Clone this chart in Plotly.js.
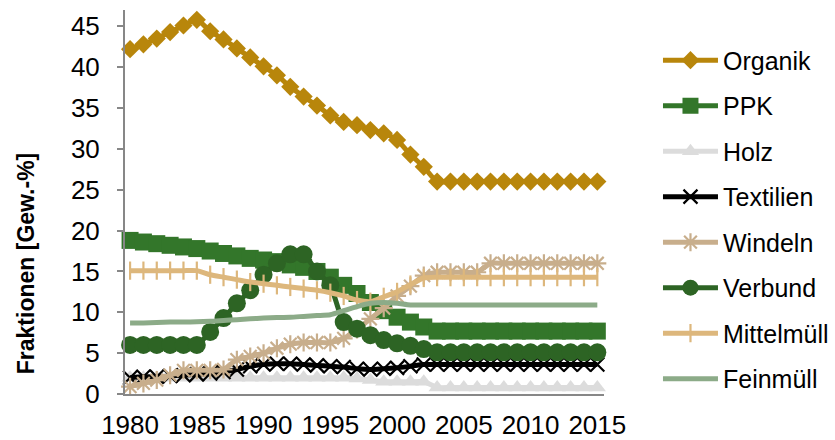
<!DOCTYPE html>
<html>
<head>
<meta charset="utf-8">
<script src="https://cdn.plot.ly/plotly-3.0.1.min.js"></script>
<style>
  html, body { margin: 0; padding: 0; background: #ffffff; }
  #chart { width: 835px; height: 440px; }
</style>
</head>
<body>
<div id="chart"></div>
<script>
// ---- data ----
const years = [1980, 1981, 1982, 1983, 1984, 1985, 1986, 1987, 1988, 1989,
               1990, 1991, 1992, 1993, 1994, 1995, 1996, 1997, 1998, 1999,
               2000, 2001, 2002, 2003, 2004, 2005, 2006, 2007, 2008, 2009,
               2010, 2011, 2012, 2013, 2014, 2015];

const organik = [42.2, 42.8, 43.5, 44.3, 45.1, 45.8, 44.4, 43.4, 42.3, 41.2,
                 40.1, 39.0, 37.6, 36.4, 35.3, 34.1, 33.3, 32.9, 32.3, 31.9,
                 31.1, 29.3, 27.8, 26.0, 26.0, 26.0, 26.0, 26.0, 26.0, 26.0,
                 26.0, 26.0, 26.0, 26.0, 26.0, 26.0];

const ppk = [18.8, 18.6, 18.4, 18.2, 18.0, 17.8, 17.5, 17.2, 16.9, 16.6,
             16.4, 16.2, 15.8, 15.5, 15.0, 14.3, 13.3, 12.3, 11.2, 10.2,
             9.4, 8.8, 8.2, 7.7, 7.7, 7.7, 7.7, 7.7, 7.7, 7.7,
             7.7, 7.7, 7.7, 7.7, 7.7, 7.7];

const holz = [2.0, 2.0, 2.0, 2.0, 2.0, 2.0, 2.0, 2.0, 2.0, 2.0,
              2.0, 2.0, 2.0, 2.0, 2.0, 2.0, 2.0, 1.9, 1.7, 1.5,
              1.5, 1.5, 1.5, 0.8, 0.8, 0.8, 0.8, 0.8, 0.8, 0.8,
              0.8, 0.8, 0.8, 0.8, 0.8, 0.8];

const textilien = [2.0, 2.1, 2.1, 2.2, 2.3, 2.4, 2.5, 2.7, 3.0, 3.4,
                   3.6, 3.7, 3.7, 3.6, 3.5, 3.4, 3.3, 3.1, 3.0, 3.1,
                   3.2, 3.4, 3.6, 3.6, 3.6, 3.6, 3.6, 3.6, 3.6, 3.6,
                   3.6, 3.6, 3.6, 3.6, 3.6, 3.6];

const windeln = [0.9, 1.3, 1.7, 2.3, 2.9, 2.9, 2.9, 3.0, 4.2, 4.6,
                 5.0, 5.6, 6.1, 6.3, 6.3, 6.3, 6.8, 7.9, 9.2, 10.5,
                 12.0, 13.2, 14.5, 14.9, 14.9, 14.9, 14.9, 16.0, 16.0, 16.0,
                 16.0, 16.0, 16.0, 16.0, 16.0, 16.0];

const verbund = [6.0, 6.0, 6.0, 6.0, 6.0, 6.0, 7.6, 9.3, 11.1, 12.7,
                 14.6, 16.0, 17.1, 17.1, 15.0, 13.3, 8.8, 8.0, 7.2, 6.6,
                 6.2, 5.9, 5.5, 5.1, 5.1, 5.1, 5.1, 5.1, 5.1, 5.1,
                 5.1, 5.1, 5.1, 5.1, 5.1, 5.1];

const mittelmuell = [15.1, 15.1, 15.1, 15.1, 15.1, 15.1, 14.6, 14.3, 14.0, 13.7,
                     13.5, 13.3, 13.1, 12.9, 12.7, 12.4, 12.0, 11.5, 11.3, 11.9,
                     12.5, 13.4, 14.2, 14.3, 14.3, 14.3, 14.3, 14.3, 14.3, 14.3,
                     14.3, 14.3, 14.3, 14.3, 14.3, 14.3];

const feinmuell = [8.7, 8.7, 8.75, 8.8, 8.8, 8.85, 8.9, 9.0, 9.1, 9.2,
                   9.3, 9.35, 9.4, 9.5, 9.6, 9.7, 10.2, 10.7, 11.1, 11.2,
                   11.1, 10.9, 10.9, 10.9, 10.9, 10.9, 10.9, 10.9, 10.9, 10.9,
                   10.9, 10.9, 10.9, 10.9, 10.9, 10.9];

const seriesNames = ["Organik", "PPK", "Holz", "Textilien", "Windeln", "Verbund", "Mittelmüll", "Feinmüll"];
const xTickVals = [1980, 1985, 1990, 1995, 2000, 2005, 2010, 2015];
const yTickVals = [0, 5, 10, 15, 20, 25, 30, 35, 40, 45];
const yTitle = "Fraktionen [Gew.-%]";

// ---- styles ----
const FONT = "Liberation Sans, Arial, sans-serif";
const LW = 5;
function tr(name, y, color, marker) {
  const t = {
    type: "scatter", mode: marker ? "lines+markers" : "lines",
    x: years, y: y, name: name, legendgroup: name,
    line: { color: color, width: LW, shape: "spline", smoothing: 0.6 },
    cliponaxis: false
  };
  if (marker) t.marker = marker;
  return t;
}

const traces = [
  tr(seriesNames[0], organik, "#B8860B", { symbol: "diamond", size: 14, color: "#B8860B" }),
  tr(seriesNames[1], ppk, "#33762A", { symbol: "square", size: 17, color: "#33762A" }),
  tr(seriesNames[2], holz, "#DCDCDC", { symbol: "triangle-up", size: 15, color: "#DCDCDC" }),
  tr(seriesNames[3], textilien, "#000000", { symbol: "x-thin", size: 14, color: "#000000", line: { color: "#000000", width: 2.2 } }),
  tr(seriesNames[4], windeln, "#C8AE8C", { symbol: "asterisk", size: 15, color: "#C8AE8C", line: { color: "#C8AE8C", width: 2.2 } }),
  tr(seriesNames[5], verbund, "#2D6424", { symbol: "circle", size: 18, color: "#2D6424" }),
  tr(seriesNames[6], mittelmuell, "#DDB77C", { symbol: "line-ns", size: 13, color: "#DDB77C", line: { color: "#DDB77C", width: 2.2 } }),
  tr(seriesNames[7], feinmuell, "#8CAB88", null)
];

const layout = {
  width: 835, height: 440,
  margin: { l: 125, r: 231, t: 10, b: 46, autoexpand: false },
  paper_bgcolor: "#ffffff", plot_bgcolor: "#ffffff",
  font: { family: FONT, size: 26, color: "#000000" },
  showlegend: true,
  xaxis: {
    range: [1979.62, 2015.5],
    tickvals: xTickVals, ticktext: xTickVals.map(String),
    showgrid: false, zeroline: false,
    showline: true, linecolor: "#878787", linewidth: 2,
    ticks: "", ticklabelstandoff: 7,
    tickfont: { family: FONT, size: 26, color: "#000000" }
  },
  yaxis: {
    range: [0, 47],
    tickvals: yTickVals, ticktext: yTickVals.map(String),
    showgrid: false, zeroline: false,
    showline: true, linecolor: "#878787", linewidth: 2,
    ticks: "outside", ticklen: 6, tickwidth: 2, tickcolor: "#878787",
    ticklabelstandoff: 12,
    tickfont: { family: FONT, size: 26, color: "#000000" }
  },
  legend: {
    xref: "container", yref: "container",
    x: 0.7880, xanchor: "left", y: 0.915, yanchor: "top",
    maxheight: 1,
    traceorder: "grouped", tracegroupgap: 10,
    itemwidth: 55,
    font: { family: FONT, size: 25, color: "#000000" },
    bgcolor: "rgba(0,0,0,0)", borderwidth: 0
  },
  annotations: [{
    text: "<b>" + yTitle + "</b>",
    xref: "paper", yref: "paper",
    x: -0.205, y: 0.34, xanchor: "center", yanchor: "middle",
    textangle: -90, showarrow: false,
    font: { family: FONT, size: 23, color: "#000000" }
  }]
};

Plotly.newPlot("chart", traces, layout, { displayModeBar: false, staticPlot: true });
</script>
</body>
</html>
